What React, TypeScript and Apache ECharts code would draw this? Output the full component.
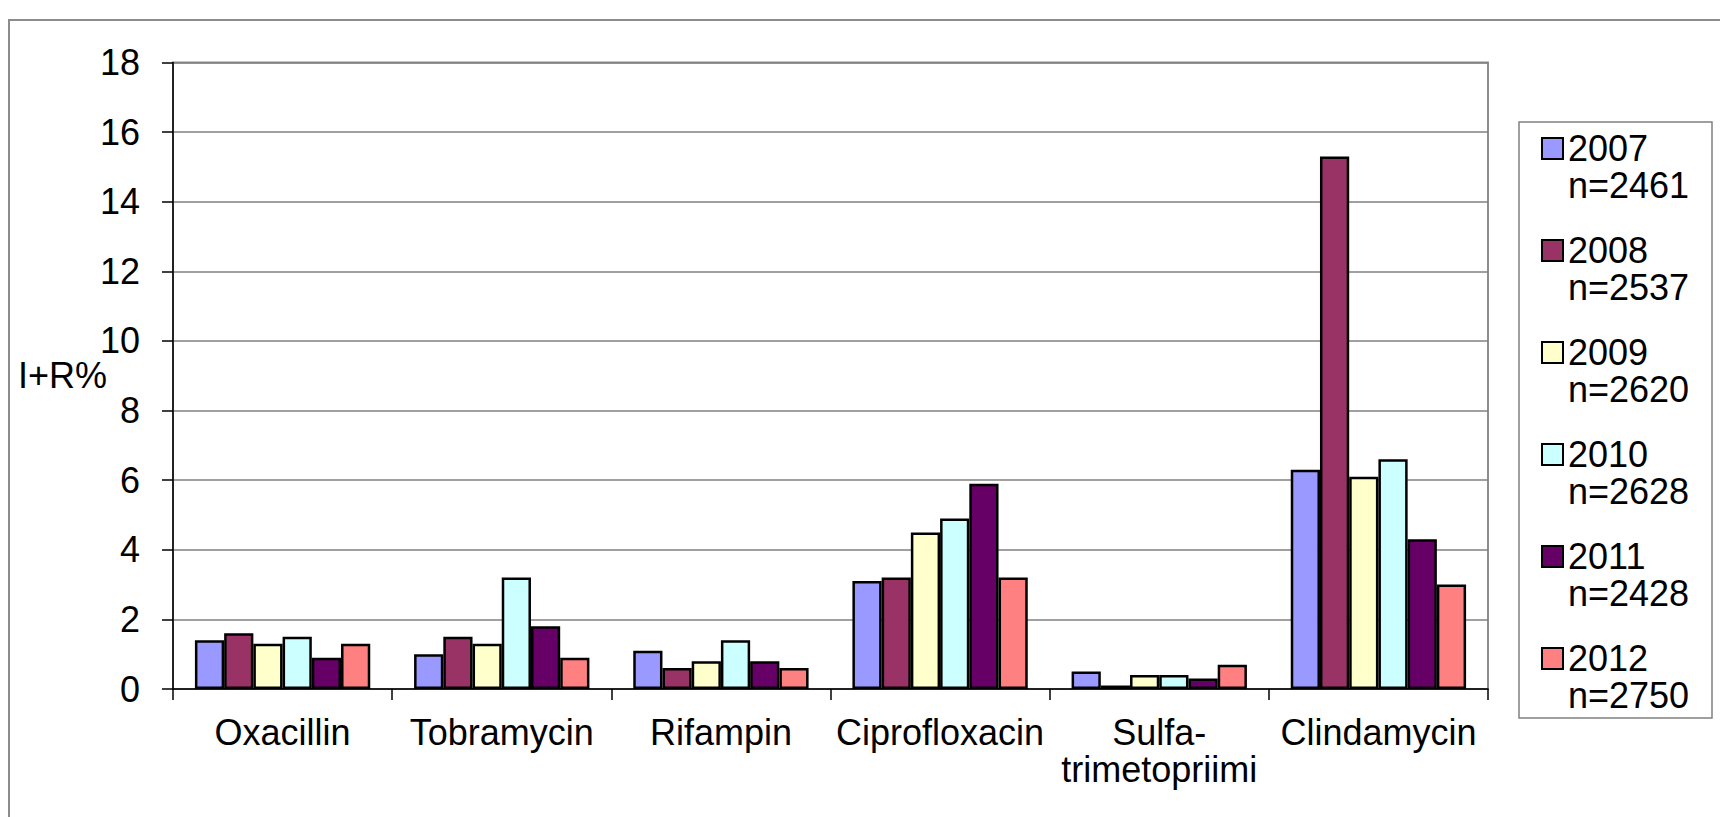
import React, { useEffect, useRef } from "react";
import * as echarts from "echarts";

const categories = ["Oxacillin", "Tobramycin", "Rifampin", "Ciprofloxacin", "Sulfa-\ntrimetopriimi", "Clindamycin"];
const years = ["2007", "2008", "2009", "2010", "2011", "2012"];
const counts = ["n=2461", "n=2537", "n=2620", "n=2628", "n=2428", "n=2750"];
const colors = ["#9999FF", "#993366", "#FFFFCC", "#CCFFFF", "#660066", "#FF8080"];

const v2007 = [1.4, 1.0, 1.1, 3.1, 0.5, 6.3];
const v2008 = [1.6, 1.5, 0.6, 3.2, 0.1, 15.3];
const v2009 = [1.3, 1.3, 0.8, 4.5, 0.4, 6.1];
const v2010 = [1.5, 3.2, 1.4, 4.9, 0.4, 6.6];
const v2011 = [0.9, 1.8, 0.8, 5.9, 0.3, 4.3];
const v2012 = [1.3, 0.9, 0.6, 3.2, 0.7, 3.0];
const seriesValues = [v2007, v2008, v2009, v2010, v2011, v2012];

const yTicks = { min: 0, max: 18, interval: 2 };
const yName = "I+R%";

const FONT = "'Liberation Sans', Arial, sans-serif";

export default function App() {
  const ref = useRef<HTMLDivElement>(null);
  useEffect(() => {
    if (!ref.current) return;
    const chart = echarts.init(ref.current, null, { renderer: "svg" });
    const option: any = {
      animation: false,
      backgroundColor: "#ffffff",
      textStyle: { fontFamily: FONT, color: "#000" },
      graphic: [
        {
          type: "rect",
          shape: { x: 9, y: 20, width: 1800, height: 900 },
          style: { fill: "none", stroke: "#8c8c8c", lineWidth: 2 },
          z: -1,
        },
        {
          type: "rect",
          shape: { x: 1519, y: 122, width: 193, height: 596 },
          style: { fill: "none", stroke: "#808080", lineWidth: 1.5 },
          z: -1,
        },
      ],
      grid: {
        left: 173,
        right: 232,
        top: 62.5,
        bottom: 128,
        show: true,
        borderColor: "#8c8c8c",
        borderWidth: 2,
        backgroundColor: "transparent",
      },
      legend: {
        orient: "vertical",
        left: 1541,
        top: 93,
        padding: 0,
        itemGap: -9,
        itemWidth: 21,
        itemHeight: 21,
        icon: "rect",
        data: years.map((y, i) => `${y}\n${counts[i]}`),
        formatter: (name: string) => "\n" + name,
        itemStyle: { borderColor: "#000", borderWidth: 2 },
        textStyle: {
          fontFamily: FONT,
          fontSize: 36,
          lineHeight: 37,
          color: "#000",
        },
      },
      xAxis: {
        type: "category",
        data: categories,
        axisLine: { lineStyle: { color: "#000", width: 1.5 } },
        axisTick: { show: true, length: 11, lineStyle: { color: "#000", width: 1.5 } },
        axisLabel: {
          fontFamily: FONT,
          fontSize: 36,
          lineHeight: 37,
          color: "#000",
          margin: 25,
          interval: 0,
        },
      },
      yAxis: {
        type: "value",
        min: yTicks.min,
        max: yTicks.max,
        interval: yTicks.interval,
        name: yName,
        nameLocation: "middle",
        nameRotate: 0,
        nameGap: 66,
        nameMoveOverlap: false,
        nameTextStyle: { fontFamily: FONT, fontSize: 36, color: "#000" },
        axisLine: { show: true, lineStyle: { color: "#000", width: 1.5 } },
        axisTick: { show: true, length: 11, lineStyle: { color: "#000", width: 1.5 } },
        axisLabel: { fontFamily: FONT, fontSize: 36, color: "#000", margin: 33 },
        splitLine: { lineStyle: { color: "#808080", width: 1.5 } },
      },
      series: seriesValues.map((vals, i) => ({
        type: "bar",
        name: `${years[i]}\n${counts[i]}`,
        data: vals,
        barGap: "0%",
        barCategoryGap: "20%",
        itemStyle: { color: colors[i], borderColor: "#000", borderWidth: 2.5 },
      })),
    };
    chart.setOption(option);
    return () => chart.dispose();
  }, []);
  return (
    <div
      ref={ref}
      style={{ position: "fixed", left: 0, top: 0, width: 1720, height: 817, background: "#fff" }}
    />
  );
}
